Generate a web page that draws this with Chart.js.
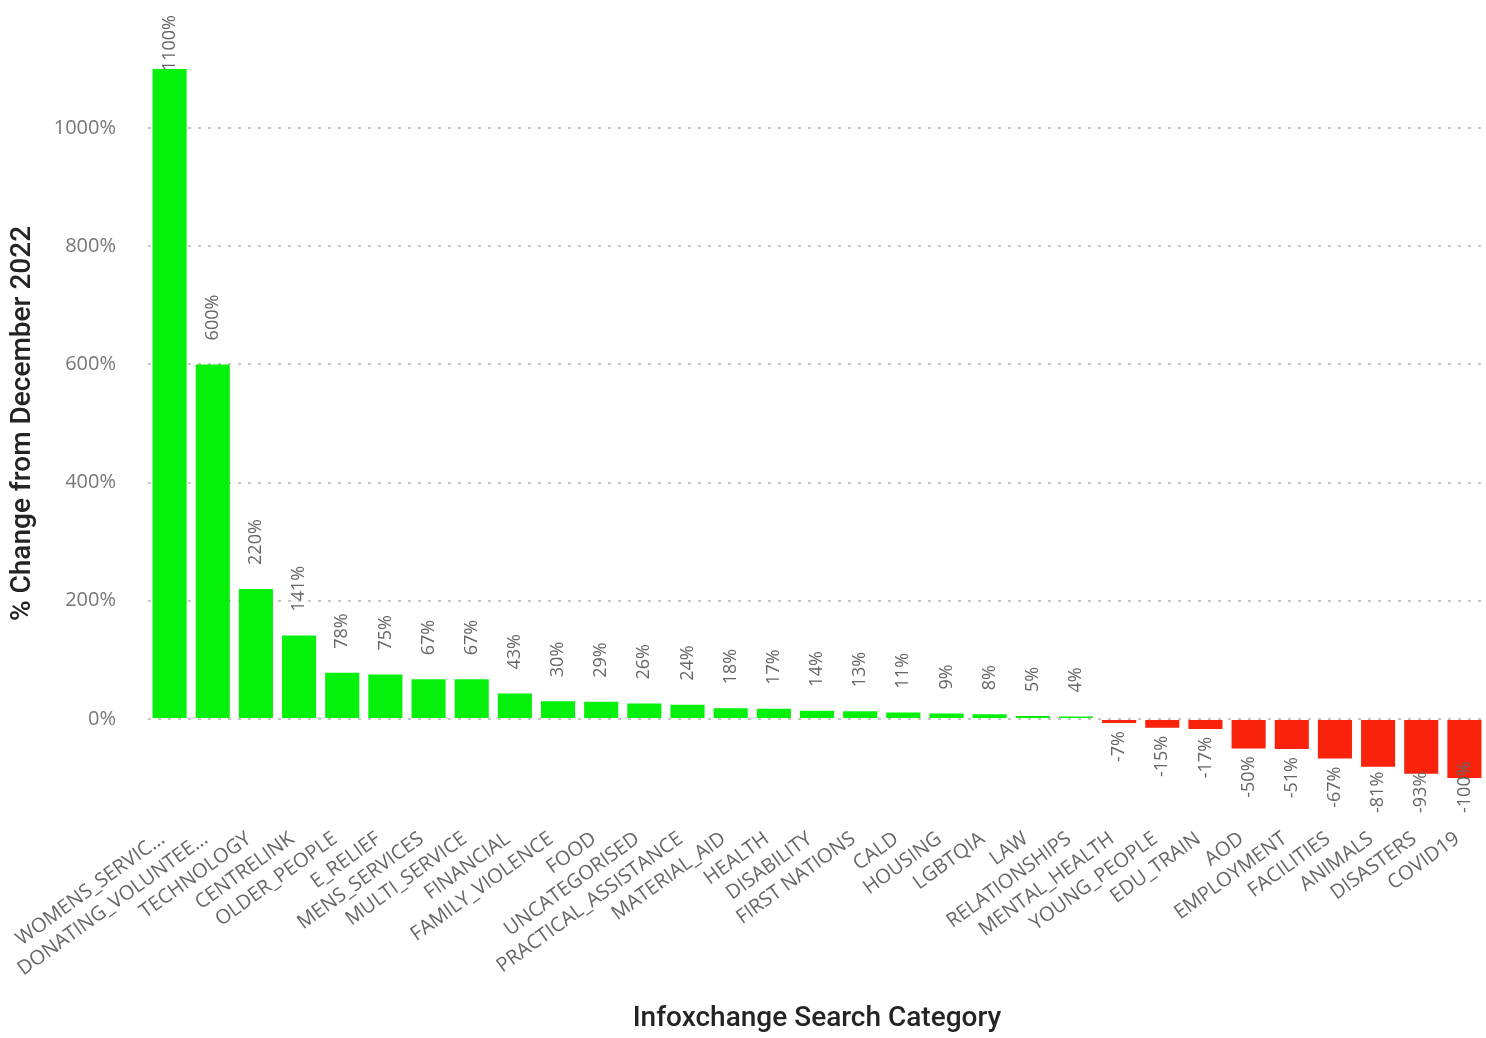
<!DOCTYPE html>
<html>
<head>
<meta charset="utf-8">
<script src="https://cdn.jsdelivr.net/npm/chart.js@4/dist/chart.umd.min.js"></script>
<style>
  html, body { margin: 0; padding: 0; background: #fff; }
  #wrap { width: 1486px; height: 1038px; }
</style>
</head>
<body>
<div id="wrap"><canvas id="myChart" width="1486" height="1038"></canvas></div>
<script>
const categories = [
    'WOMENS_SERVIC...', 'DONATING_VOLUNTEE...', 'TECHNOLOGY', 'CENTRELINK', 'OLDER_PEOPLE',
    'E_RELIEF', 'MENS_SERVICES', 'MULTI_SERVICE', 'FINANCIAL', 'FAMILY_VIOLENCE',
    'FOOD', 'UNCATEGORISED', 'PRACTICAL_ASSISTANCE', 'MATERIAL_AID', 'HEALTH',
    'DISABILITY', 'FIRST NATIONS', 'CALD', 'HOUSING', 'LGBTQIA',
    'LAW', 'RELATIONSHIPS', 'MENTAL_HEALTH', 'YOUNG_PEOPLE', 'EDU_TRAIN',
    'AOD', 'EMPLOYMENT', 'FACILITIES', 'ANIMALS', 'DISASTERS', 'COVID19'
];
const changes = [
    1100, 600, 220, 141, 78, 75, 67, 67, 43, 30,
    29, 26, 24, 18, 17, 14, 13, 11, 9, 8,
    5, 4, -7, -15, -17, -50, -51, -67, -81, -93, -100
];
const yTicks = [0, 200, 400, 600, 800, 1000];

const GREEN = '#05F00B';
const RED = '#F9230C';

// value labels, rotated, at the end of each bar
const barLabels = {
    id: 'barLabels',
    afterDatasetsDraw(chart) {
        const ctx = chart.ctx;
        const meta = chart.getDatasetMeta(0);
        ctx.save();
        ctx.font = '18px "Open Sans"';
        ctx.fillStyle = '#666666';
        ctx.textBaseline = 'middle';
        meta.data.forEach((bar, i) => {
            const v = changes[i];
            const txt = v + '%';
            const w = ctx.measureText(txt).width;
            ctx.save();
            if (v >= 0) {
                const start = Math.max(bar.y - 24, 15 + w);
                ctx.translate(bar.x, start);
                ctx.rotate(-Math.PI / 2);
                ctx.textAlign = 'left';
            } else {
                const start = Math.min(bar.y + 8, 813 - w);
                ctx.translate(bar.x, start);
                ctx.rotate(-Math.PI / 2);
                ctx.textAlign = 'right';
            }
            ctx.fillText(txt, 0, 0);
            ctx.restore();
        });
        ctx.restore();
    }
};

function renderChart() {
    const ctx = document.getElementById('myChart').getContext('2d');
    new Chart(ctx, {
        type: 'bar',
        data: {
            labels: categories,
            datasets: [{
                label: '% Change',
                data: changes,
                backgroundColor: changes.map(v => v >= 0 ? GREEN : RED),
                borderWidth: 0,
                categoryPercentage: 1,
                barPercentage: 0.79
            }]
        },
        plugins: [barLabels],
        options: {
            responsive: false,
            animation: false,
            layout: { padding: { top: 69, right: 0, bottom: 0, left: 0 } },
            plugins: {
                legend: { display: false },
                tooltip: { enabled: false }
            },
            scales: {
                x: {
                    grid: { display: false },
                    border: { display: false },
                    ticks: {
                        autoSkip: false,
                        minRotation: 36,
                        maxRotation: 36,
                        padding: 41,
                        labelOffset: -7,
                        color: '#666666',
                        font: { family: '"Open Sans"', size: 20 }
                    },
                    title: {
                        display: true,
                        text: 'Infoxchange Search Category',
                        color: '#252423',
                        font: { family: 'Roboto', size: 28, weight: 500 },
                        padding: { top: 0, bottom: 2 }
                    },
                    afterFit(scale) {
                        scale.height = 1038 - 778;
                        scale.paddingLeft = 0;
                        scale.paddingRight = 0;
                    }
                },
                y: {
                    min: -100,
                    max: 1100,
                    ticks: {
                        color: '#777777',
                        padding: 32,
                        font: { family: '"Open Sans"', size: 20 },
                        callback: v => v + '%'
                    },
                    afterBuildTicks(scale) {
                        scale.ticks = yTicks.map(v => ({ value: v }));
                    },
                    grid: {
                        color: '#C8C8C8',
                        lineWidth: 2,
                        drawTicks: false
                    },
                    border: { display: false, dash: [3, 7] },
                    title: {
                        display: true,
                        text: '% Change from December 2022',
                        color: '#252423',
                        font: { family: 'Roboto', size: 28, weight: 500 },
                        padding: { top: 6, bottom: 0 }
                    },
                    afterFit(scale) { scale.width = 148; }
                }
            }
        }
    });
}

Promise.all([
    document.fonts.load('20px "Open Sans"'),
    document.fonts.load('500 28px Roboto')
]).then(renderChart, renderChart);
</script>
</body>
</html>
